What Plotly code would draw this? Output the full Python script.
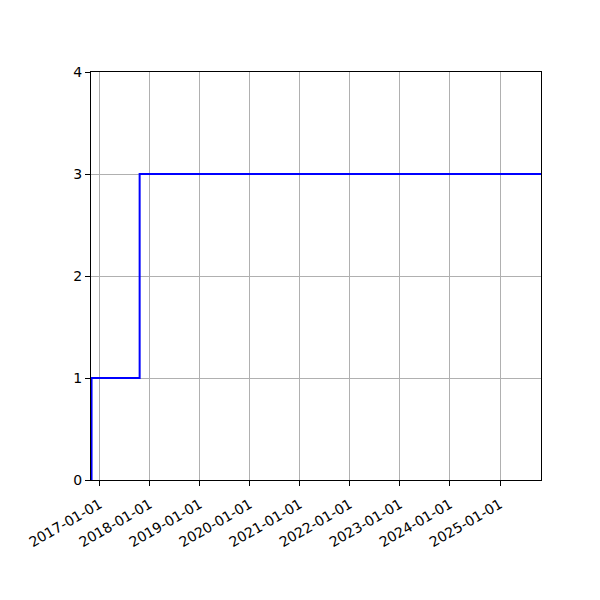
import plotly.graph_objects as go

# step data (value holds until next date)
dates = ["2016-11-03", "2016-11-03", "2017-10-20", "2025-10-27"]
values = [0, 1, 3, 3]

tick_dates = ["%d-01-01" % y for y in range(2017, 2026)]

fig = go.Figure()
fig.add_trace(go.Scatter(x=dates, y=values, mode="lines",
                         line=dict(color="blue", width=2, shape="hv"),
                         showlegend=False))

axis_common = dict(showline=True, linecolor="black", linewidth=1, mirror=True,
                   showgrid=True, gridcolor="#b0b0b0", gridwidth=1,
                   ticks="outside", ticklen=5, tickcolor="black",
                   zeroline=False, tickfont=dict(family="DejaVu Sans", size=14, color="black"))

fig.update_xaxes(type="date", range=["2016-10-30", "2025-10-27"],
                 tickvals=tick_dates, ticktext=tick_dates, tickangle=-30,
                 ticklabelstandoff=5, **axis_common)
fig.update_yaxes(range=[0, 4], tickvals=[0, 1, 2, 3, 4], **axis_common)

# page body adds 8px offset, so margins are shifted to compensate
fig.update_layout(width=600, height=600, plot_bgcolor="white", paper_bgcolor="white",
                  margin=dict(l=83, r=67, t=64, b=128),
                  font=dict(family="DejaVu Sans", size=14, color="black"))

fig.write_html("out.html")
